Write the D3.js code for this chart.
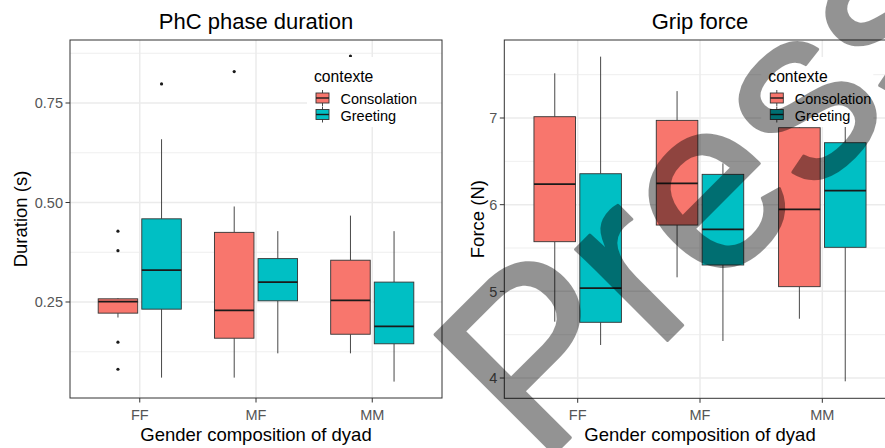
<!DOCTYPE html>
<html>
<head>
<meta charset="utf-8">
<script src="https://cdn.jsdelivr.net/npm/d3@7"></script>
<style>
  html, body { margin: 0; padding: 0; background: #fff; }
  svg { display: block; font-family: "Liberation Sans", Arial, sans-serif; }
</style>
</head>
<body>
<svg id="chart" width="885" height="448"></svg>
<script>
// ---------------- data ----------------
const categories = ["FF", "MF", "MM"];
const groups = ["Consolation", "Greeting"];
const groupColors = ["#F8766D", "#00BFC4"];

// box stats per category: [lowerWhisker, q1, median, q3, upperWhisker]
const durationConsolation = [[0.211, 0.222, 0.251, 0.258, 0.260], [0.060, 0.159, 0.229, 0.425, 0.490], [0.121, 0.169, 0.254, 0.355, 0.467]];
const durationGreeting    = [[0.060, 0.232, 0.330, 0.459, 0.659], [0.121, 0.253, 0.300, 0.359, 0.428], [0.050, 0.145, 0.189, 0.300, 0.428]];
const durationOutliersConsolation = [[0.428, 0.379, 0.149, 0.081], [0.829], [0.868]];
const durationOutliersGreeting    = [[0.798], [], []];
const durationTicks = [0.25, 0.50, 0.75];
const durationTickLabels = ["0.25", "0.50", "0.75"];
const durationMinor = [0.125, 0.375, 0.625, 0.875];

const forceConsolation = [[4.650, 5.573, 6.238, 7.015, 7.516], [5.162, 5.765, 6.246, 6.973, 7.310], [4.684, 5.054, 5.946, 6.888, 7.200]];
const forceGreeting    = [[4.381, 4.643, 5.038, 6.357, 7.708], [4.427, 5.304, 5.716, 6.350, 6.477], [3.962, 5.508, 6.161, 6.715, 7.100]];
const forceOutliersConsolation = [[], [], []];
const forceOutliersGreeting    = [[], [], []];
const forceTicks = [4, 5, 6, 7];
const forceTickLabels = ["4", "5", "6", "7"];
const forceMinor = [4.5, 5.5, 6.5, 7.5];

const watermarkText = "Press";

const svg = d3.select("#chart");
svg.append("rect").attr("width", 885).attr("height", 448).attr("fill", "#fff");

function panel(cfg) {
  const g = svg.append("g");
  const x = d3.scaleLinear().domain([0.4, 3.6]).range([cfg.left, cfg.right]);
  const y = d3.scaleLinear().domain(cfg.yDomain).range([cfg.bottom, cfg.top]);
  const clipId = "clip" + cfg.id;
  svg.append("clipPath").attr("id", clipId).append("rect")
    .attr("x", cfg.left).attr("y", cfg.top)
    .attr("width", cfg.right - cfg.left).attr("height", cfg.bottom - cfg.top);
  const inner = g.append("g").attr("clip-path", `url(#${clipId})`);

  // grid
  inner.selectAll(".minor").data(cfg.minor).join("line")
    .attr("x1", cfg.left).attr("x2", cfg.right)
    .attr("y1", d => y(d)).attr("y2", d => y(d))
    .attr("stroke", "#EBEBEB").attr("stroke-width", 0.8);
  inner.selectAll(".major").data(cfg.ticks).join("line")
    .attr("x1", cfg.left).attr("x2", cfg.right)
    .attr("y1", d => y(d)).attr("y2", d => y(d))
    .attr("stroke", "#EBEBEB").attr("stroke-width", 1.5);
  inner.selectAll(".vmajor").data(categories).join("line")
    .attr("x1", (d, i) => x(i + 1)).attr("x2", (d, i) => x(i + 1))
    .attr("y1", cfg.top).attr("y2", cfg.bottom)
    .attr("stroke", "#EBEBEB").attr("stroke-width", 1.5);

  // boxes
  const dodge = 0.1875, bw = 0.34;
  cfg.series.forEach((stats, gi) => {
    const off = gi === 0 ? -dodge : dodge;
    stats.forEach((s, ci) => {
      const cx = x(ci + 1 + off);
      const x0 = x(ci + 1 + off - bw / 2), x1 = x(ci + 1 + off + bw / 2);
      inner.append("line").attr("x1", cx).attr("x2", cx).attr("y1", y(s[3])).attr("y2", y(s[4]))
        .attr("stroke", "#333").attr("stroke-width", 0.9);
      inner.append("line").attr("x1", cx).attr("x2", cx).attr("y1", y(s[1])).attr("y2", y(s[0]))
        .attr("stroke", "#333").attr("stroke-width", 0.9);
      inner.append("rect").attr("x", x0).attr("y", y(s[3]))
        .attr("width", x1 - x0).attr("height", y(s[1]) - y(s[3]))
        .attr("fill", groupColors[gi]).attr("stroke", "#333").attr("stroke-width", 0.9);
      inner.append("line").attr("x1", x0).attr("x2", x1).attr("y1", y(s[2])).attr("y2", y(s[2]))
        .attr("stroke", "#1a1a1a").attr("stroke-width", 1.8);
      cfg.outliers[gi][ci].forEach(o => {
        inner.append("circle").attr("cx", cx).attr("cy", y(o)).attr("r", 1.6).attr("fill", "#1a1a1a");
      });
    });
  });

  // border
  g.append("rect").attr("x", cfg.left).attr("y", cfg.top)
    .attr("width", cfg.right - cfg.left).attr("height", cfg.bottom - cfg.top)
    .attr("fill", "none").attr("stroke", "#333").attr("stroke-width", 1);

  // y axis ticks
  cfg.ticks.forEach((t, i) => {
    g.append("line").attr("x1", cfg.left - 4.5).attr("x2", cfg.left).attr("y1", y(t)).attr("y2", y(t))
      .attr("stroke", "#333").attr("stroke-width", 1);
    g.append("text").attr("x", cfg.left - 7).attr("y", y(t)).attr("dy", "0.36em")
      .attr("text-anchor", "end").attr("font-size", 14.5).attr("fill", "#555").text(cfg.tickLabels[i]);
  });
  // x axis ticks
  categories.forEach((c, i) => {
    g.append("line").attr("x1", x(i + 1)).attr("x2", x(i + 1)).attr("y1", cfg.bottom).attr("y2", cfg.bottom + 4.5)
      .attr("stroke", "#333").attr("stroke-width", 1);
    g.append("text").attr("x", x(i + 1)).attr("y", cfg.bottom + 22)
      .attr("text-anchor", "middle").attr("font-size", 14.5).attr("fill", "#555").text(c);
  });

  // titles
  g.append("text").attr("x", (cfg.left + cfg.right) / 2).attr("y", 29)
    .attr("text-anchor", "middle").attr("font-size", 22).attr("fill", "#000").text(cfg.title);
  g.append("text").attr("x", (cfg.left + cfg.right) / 2).attr("y", 441)
    .attr("text-anchor", "middle").attr("font-size", 18.5).attr("fill", "#000").text("Gender composition of dyad");
  g.append("text").attr("transform", `translate(${cfg.yTitleX},${(cfg.top + cfg.bottom) / 2}) rotate(-90)`)
    .attr("text-anchor", "middle").attr("font-size", 18.5).attr("fill", "#000").text(cfg.yTitle);

  // legend
  const L = cfg.legend;
  const lg = g.append("g");
  lg.append("rect").attr("x", L.x - 7).attr("y", 57).attr("width", 112).attr("height", 70).attr("fill", "#fff");
  lg.append("text").attr("x", L.x).attr("y", 82).attr("font-size", 15.7).attr("fill", "#000").text("contexte");
  groups.forEach((gname, gi) => {
    const ky = 90 + gi * 16.5;
    const kx = L.x + 2;
    lg.append("line").attr("x1", kx + 6.5).attr("x2", kx + 6.5).attr("y1", ky).attr("y2", ky + 16)
      .attr("stroke", "#333").attr("stroke-width", 0.9);
    lg.append("rect").attr("x", kx).attr("y", ky + 3).attr("width", 13).attr("height", 10)
      .attr("fill", groupColors[gi]).attr("stroke", "#333").attr("stroke-width", 0.9);
    lg.append("line").attr("x1", kx).attr("x2", kx + 13).attr("y1", ky + 8).attr("y2", ky + 8)
      .attr("stroke", "#1a1a1a").attr("stroke-width", 1.4);
    lg.append("text").attr("x", L.x + 26.5).attr("y", ky + 14).attr("font-size", 14.5).attr("fill", "#000").text(gname);
  });
}

panel({
  id: "a", left: 70, right: 442, top: 40, bottom: 398,
  yDomain: [0.00879, 0.9083], ticks: durationTicks, tickLabels: durationTickLabels, minor: durationMinor,
  series: [durationConsolation, durationGreeting],
  outliers: [durationOutliersConsolation, durationOutliersGreeting],
  title: "PhC phase duration", yTitleX: 27, yTitle: "Duration (s)",
  legend: { x: 314 }
});
panel({
  id: "b", left: 504.3, right: 895.7, top: 40, bottom: 398.3,
  yDomain: [3.766, 7.9], ticks: forceTicks, tickLabels: forceTickLabels, minor: forceMinor,
  series: [forceConsolation, forceGreeting],
  outliers: [forceOutliersConsolation, forceOutliersGreeting],
  title: "Grip force", yTitleX: 484, yTitle: "Force (N)",
  legend: { x: 768.3 }
});

// watermark (semi-transparent overlay, as in the reference image)
svg.append("g").attr("opacity", 0.42).attr("pointer-events", "none")
  .append("text")
  .attr("transform", "translate(540,468) rotate(-45)")
  .attr("font-size", 245).attr("fill", "#000")
  .attr("stroke", "#000").attr("stroke-width", 3).attr("stroke-linejoin", "round")
  .text(watermarkText);
</script>
</body>
</html>
